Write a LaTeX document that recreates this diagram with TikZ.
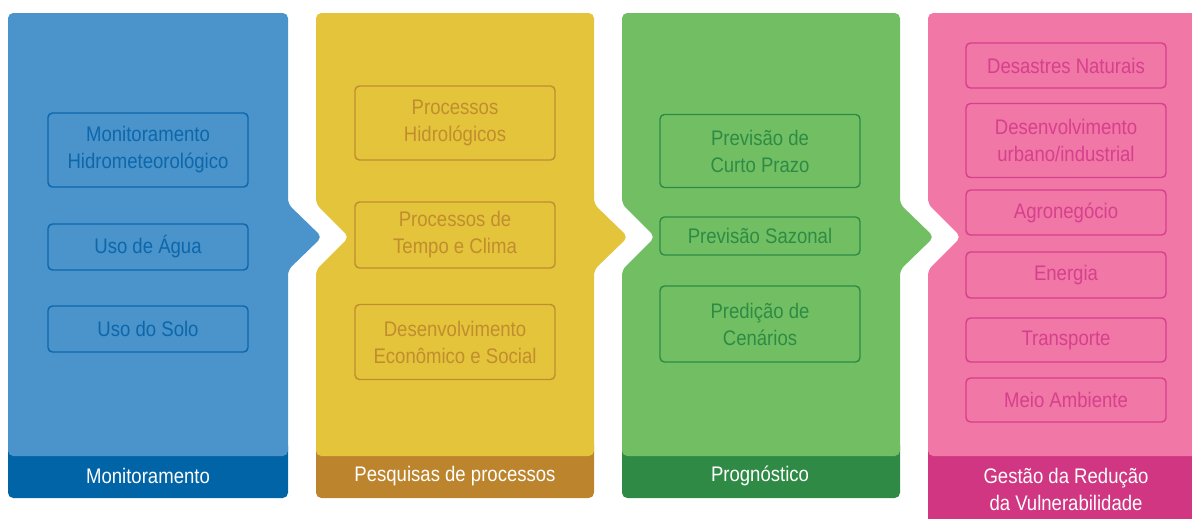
\documentclass[tikz,border=0pt]{standalone}
\usepackage{fontspec}
\setmainfont{Liberation Sans}[FakeStretch=0.88]
\definecolor{blueL}{HTML}{4A93CB}
\definecolor{blueD}{HTML}{0064A6}
\definecolor{blueT}{HTML}{0D67AB}
\definecolor{yelL}{HTML}{E3C43A}
\definecolor{yelD}{HTML}{BC842D}
\definecolor{yelT}{HTML}{C18D2F}
\definecolor{grnL}{HTML}{72BF63}
\definecolor{grnD}{HTML}{2E8A45}
\definecolor{grnT}{HTML}{2E8B45}
\definecolor{pnkL}{HTML}{F077A6}
\definecolor{pnkD}{HTML}{D03682}
\definecolor{pnkT}{HTML}{D6408C}
\begin{document}
\begin{tikzpicture}[x=0.02cm, y=-0.02cm, every node/.style={font=\fontsize{12}{15.4}\selectfont, align=center}, item/.style={draw, rounded corners=2.5pt, line width=0.8pt, minimum width=4cm, inner sep=0pt}, band/.style={text=white}]
	\useasboundingbox (0,0) rectangle (1192,518);
	\clip (0,0) rectangle (1192,518);
	% bands
	\fill[blueD, rounded corners=3pt] (8,440) rectangle (288,498);
	\fill[yelD, rounded corners=3pt] (316,440) rectangle (594,498);
	\fill[grnD, rounded corners=3pt] (622,440) rectangle (900,498);
	\fill[pnkD, rounded corners=3pt] (928,440) rectangle (1210,540);
	% panels
	\fill[blueL, rounded corners=3pt] (8,13) -- (288,13) -- (288,204) -- (322,237) -- (288,270) -- (288,456) -- (8,456) -- cycle;
	\fill[yelL, rounded corners=3pt] (316,13) -- (594,13) -- (594,204) -- (628,237) -- (594,270) -- (594,456) -- (316,456) -- (316,270) -- (349,237) -- (316,204) -- cycle;
	\fill[grnL, rounded corners=3pt] (622,13) -- (900,13) -- (900,204) -- (934,237) -- (900,270) -- (900,456) -- (622,456) -- (622,270) -- (655,237) -- (622,204) -- cycle;
	\fill[pnkL, rounded corners=3pt] (928,13) -- (1210,13) -- (1210,456) -- (928,456) -- (928,270) -- (961,237) -- (928,204) -- cycle;
	% monitoramento
	\node[item, blueT, minimum height=1.48cm] (hidro) at (148,150) {Monitoramento\\Hidrometeorológico};
	\node[item, blueT, minimum height=0.92cm] (agua) at (148,247) {Uso de Água};
	\node[item, blueT, minimum height=0.92cm] (solo) at (148,329) {Uso do Solo};
	\node[band] (mon) at (148,476) {Monitoramento};
	% pesquisas
	\node[item, yelT, minimum height=1.48cm] (hidrol) at (455,123) {Processos\\Hidrológicos};
	\node[item, yelT, minimum height=1.32cm] (clima) at (455,235) {Processos de\\Tempo e Clima};
	\node[item, yelT, minimum height=1.5cm] (econ) at (455,342) {Desenvolvimento\\Econômico e Social};
	\node[band] (pesq) at (455,476) {Pesquisas de processos};
	% prognostico
	\node[item, grnT, minimum height=1.46cm] (curto) at (760,151) {Previsão de\\Curto Prazo};
	\node[item, grnT, minimum height=0.76cm] (sazonal) at (760,236) {Previsão Sazonal};
	\node[item, grnT, minimum height=1.52cm] (cenarios) at (760,324) {Predição de\\Cenários};
	\node[band] (prog) at (760,476) {Prognóstico};
	% gestao
	\node[item, pnkT, minimum height=0.9cm] (desastres) at (1066,65.5) {Desastres Naturais};
	\node[item, pnkT, minimum height=1.48cm] (urbano) at (1066,140.5) {Desenvolvimento\\urbano/industrial};
	\node[item, pnkT, minimum height=0.9cm] (agro) at (1066,212.5) {Agronegócio};
	\node[item, pnkT, minimum height=0.92cm] (energia) at (1066,275) {Energia};
	\node[item, pnkT, minimum height=0.88cm] (transp) at (1066,340) {Transporte};
	\node[item, pnkT, minimum height=0.88cm] (meio) at (1066,400) {Meio Ambiente};
	\node[band] (gestao) at (1066,489.5) {Gestão da Redução\\da Vulnerabilidade};
\end{tikzpicture}
\end{document}
